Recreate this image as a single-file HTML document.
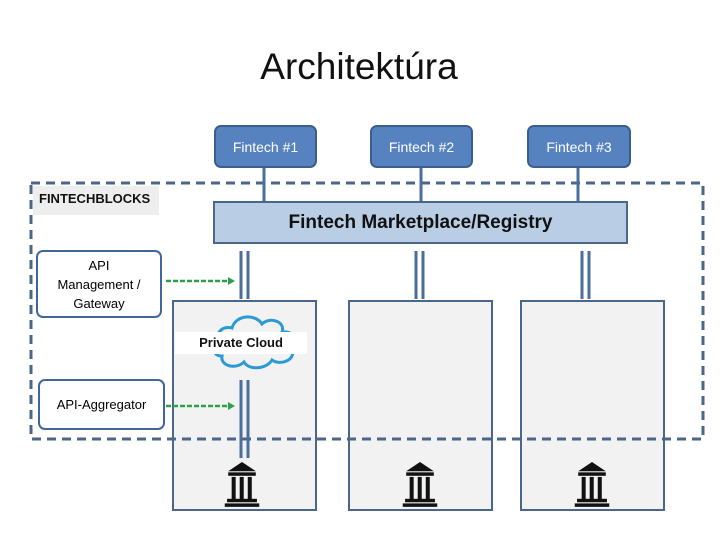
<!DOCTYPE html>
<html><head><style>
body{margin:0;width:720px;height:540px;background:#fff;position:relative;overflow:hidden;font-family:"Liberation Sans",sans-serif}
.a{position:absolute;box-sizing:border-box}
.fin{background:#5683bf;border:2px solid #3b5f8c;border-radius:7px;color:#fff;font-size:14px;display:flex;align-items:center;justify-content:center}
.panel{background:#f2f2f2;border:2px solid #4a6688}
.lb{border:2px solid #41679a;border-radius:7px;background:#fff;font-size:13px;text-align:center;display:flex;align-items:center;justify-content:center;line-height:19px}
</style></head><body>
<div class="a" style="left:0;top:46px;width:718px;text-align:center;font-size:37px;color:#111">Architektúra</div>
<div class="a panel" style="left:172px;top:300px;width:145px;height:211px"></div>
<div class="a panel" style="left:348px;top:300px;width:145px;height:211px"></div>
<div class="a panel" style="left:520px;top:300px;width:145px;height:211px"></div>
<svg class="a" style="left:0;top:0" width="720" height="540">
<rect x="31" y="183" width="672" height="256" fill="none" stroke="#4a6688" stroke-width="3" stroke-dasharray="9,6"/>
<g stroke="#4a6f9c" stroke-width="3">
<line x1="264" y1="168" x2="264" y2="201"/><line x1="421" y1="168" x2="421" y2="201"/><line x1="578" y1="168" x2="578" y2="201"/>
<line x1="241" y1="251" x2="241" y2="299"/><line x1="248" y1="251" x2="248" y2="299"/>
<line x1="416" y1="251" x2="416" y2="299"/><line x1="423" y1="251" x2="423" y2="299"/>
<line x1="582" y1="251" x2="582" y2="299"/><line x1="589" y1="251" x2="589" y2="299"/>
<line x1="241" y1="380" x2="241" y2="458"/><line x1="248" y1="380" x2="248" y2="458"/>
</g>
<g stroke="#2aa14a" stroke-width="2.5" stroke-dasharray="5,2" fill="#2aa14a">
<line x1="166" y1="281" x2="228" y2="281"/><line x1="166" y1="406" x2="228" y2="406"/>
</g>
<polygon points="228,277 235,281 228,285" fill="#2aa14a"/><polygon points="228,402 235,406 228,410" fill="#2aa14a"/>
<path d="M222,345 C212,335 222,325 232,328 C236,314 256,314 262,324 C270,316 286,322 282,332 C296,330 300,345 292,350 C296,360 280,366 272,360 C266,370 248,370 244,362 C236,370 220,366 222,356 C212,356 212,346 222,345 Z" fill="none" stroke="#2c9ad3" stroke-width="3"/>
<g fill="#111">
<g transform="translate(242,462) scale(1.15)"><polygon points="-12,8 0,0 12,8"/><rect x="-12" y="9" width="24" height="3"/><rect x="-9" y="13" width="3.5" height="20"/><rect x="-2" y="13" width="3.5" height="20"/><rect x="5" y="13" width="3.5" height="20"/><rect x="-13" y="32" width="26" height="3"/><rect x="-15" y="36" width="30" height="3"/></g>
<g transform="translate(420,462) scale(1.15)"><polygon points="-12,8 0,0 12,8"/><rect x="-12" y="9" width="24" height="3"/><rect x="-9" y="13" width="3.5" height="20"/><rect x="-2" y="13" width="3.5" height="20"/><rect x="5" y="13" width="3.5" height="20"/><rect x="-13" y="32" width="26" height="3"/><rect x="-15" y="36" width="30" height="3"/></g>
<g transform="translate(592,462) scale(1.15)"><polygon points="-12,8 0,0 12,8"/><rect x="-12" y="9" width="24" height="3"/><rect x="-9" y="13" width="3.5" height="20"/><rect x="-2" y="13" width="3.5" height="20"/><rect x="5" y="13" width="3.5" height="20"/><rect x="-13" y="32" width="26" height="3"/><rect x="-15" y="36" width="30" height="3"/></g>
</g>
</svg>
<div class="a" style="left:175px;top:332px;width:132px;height:22px;background:#fff;font-size:13px;font-weight:bold;text-align:center;line-height:22px;color:#111">Private Cloud</div>
<div class="a fin" style="left:214px;top:125px;width:103px;height:43px">Fintech #1</div>
<div class="a fin" style="left:370px;top:125px;width:103px;height:43px">Fintech #2</div>
<div class="a fin" style="left:527px;top:125px;width:104px;height:43px">Fintech #3</div>
<div class="a" style="left:213px;top:201px;width:415px;height:43px;background:#b9cde5;border:2px solid #4a6688;font-size:19px;font-weight:bold;display:flex;align-items:center;justify-content:center;color:#111">Fintech Marketplace/Registry</div>
<div class="a" style="left:33px;top:186px;width:126px;height:29px;background:#eeeeee;font-size:13px;font-weight:bold;line-height:26px;padding-left:6px;color:#111">FINTECHBLOCKS</div>
<div class="a lb" style="left:36px;top:250px;width:126px;height:68px">API<br>Management /<br>Gateway</div>
<div class="a lb" style="left:38px;top:379px;width:127px;height:51px">API-Aggregator</div>
</body></html>
